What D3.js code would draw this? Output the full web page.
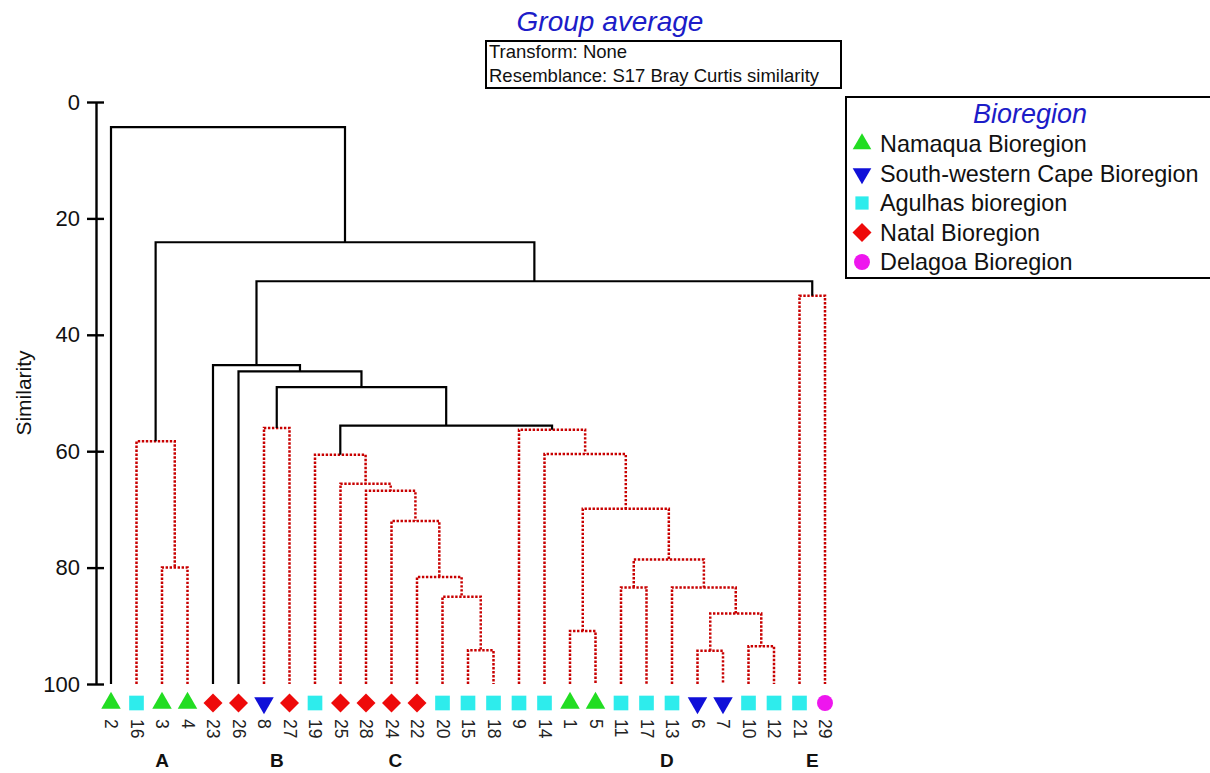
<!DOCTYPE html>
<html>
<head>
<meta charset="utf-8">
<script src="https://cdn.jsdelivr.net/npm/d3@7"></script>
<style>
  html, body { margin: 0; padding: 0; background: #fff; }
  svg { display: block; font-family: "Liberation Sans", Arial, sans-serif; }
</style>
</head>
<body>
<svg id="chart" width="1210" height="773"></svg>
<script>
// ---------------- DATA ----------------
const leafOrder = [2,16,3,4,23,26,8,27,19,25,28,24,22,20,15,18,9,14,1,5,11,17,13,6,7,10,12,21,29];
const leafRegion = [0,2,0,0,3,3,1,3,2,3,3,3,3,2,2,2,2,2,0,0,2,2,2,1,1,2,2,2,4];
const regionNames = ["Namaqua Bioregion","South-western Cape Bioregion","Agulhas bioregion","Natal Bioregion","Delagoa Bioregion"];
// merges: [left, right, similarity, significant]; numbers = sample labels, "m#" = earlier merge
const merges = [
  [3, 4, 80.0, false],          // m0
  [16, "m0", 58.3, false],      // m1
  [8, 27, 56.0, false],         // m2
  [15, 18, 94.2, false],        // m3
  [20, "m3", 85.0, false],      // m4
  [22, "m4", 81.6, false],      // m5
  [24, "m5", 72.0, false],      // m6
  [28, "m6", 66.8, false],      // m7
  [25, "m7", 65.6, false],      // m8
  [19, "m8", 60.6, false],      // m9
  [1, 5, 90.9, false],          // m10
  [11, 17, 83.4, false],        // m11
  [6, 7, 94.3, false],          // m12
  [10, 12, 93.5, false],        // m13
  ["m12", "m13", 87.9, false],  // m14
  [13, "m14", 83.4, false],     // m15
  ["m11", "m15", 78.6, false],  // m16
  ["m10", "m16", 69.9, false],  // m17
  [14, "m17", 60.5, false],     // m18
  [9, "m18", 56.3, false],      // m19
  ["m9", "m19", 55.6, true],    // m20
  ["m2", "m20", 49.0, true],    // m21
  [26, "m21", 46.3, true],      // m22
  [23, "m22", 45.2, true],      // m23
  [21, 29, 33.3, false],        // m24
  ["m23", "m24", 30.8, true],   // m25
  ["m1", "m25", 24.1, true],    // m26
  [2, "m26", 4.3, true]         // m27
];
const yTicks = [0, 20, 40, 60, 80, 100];
const groupLabels = ["A", "B", "C", "D", "E"];
const groupLeafPos = [2, 6.5, 11.15, 21.8, 27.5]; // position in leaf units
const titleText = "Group average";
const infoLines = ["Transform: None", "Resemblance: S17 Bray Curtis similarity"];
const legendTitle = "Bioregion";
const yLabel = "Similarity";

// ---------------- STYLE ----------------
const regionColor = ["#22dd22", "#1010d8", "#2eecec", "#ee0a0a", "#ee16ee"];
const regionShape = ["up", "down", "square", "diamond", "circle"];
const blue = "#1c1cc8";
const red = "#c80000";

const svg = d3.select("#chart");

// scales
const x = d3.scalePoint().domain(leafOrder).range([111, 825]);
const y = d3.scaleLinear().domain([0, 100]).range([102, 684]);
const xIdx = d3.scaleLinear().domain([0, leafOrder.length - 1]).range([111, 825]);

// build node positions
const nodes = {};
leafOrder.forEach(id => { nodes[id] = { x: x(id), sim: 100 }; });
merges.forEach((m, i) => {
  const a = nodes[m[0]], b = nodes[m[1]];
  nodes["m" + i] = { x: (a.x + b.x) / 2, sim: m[2], sig: m[3], a, b };
});

// draw dendrogram lines
const gRed = svg.append("g");
const gBlack = svg.append("g");
merges.forEach((m, i) => {
  const n = nodes["m" + i];
  const g = n.sig ? gBlack : gRed;
  const style = sel => {
    if (n.sig) sel.attr("stroke", "#000").attr("stroke-width", 2.2);
    else sel.attr("stroke", red).attr("stroke-width", 2.5).attr("stroke-dasharray", "2.4,1.6");
    sel.attr("fill", "none");
  };
  const path = d3.path();
  path.moveTo(n.a.x, y(n.a.sim));
  path.lineTo(n.a.x, y(n.sim));
  path.lineTo(n.b.x, y(n.sim));
  path.lineTo(n.b.x, y(n.b.sim));
  g.append("path").attr("d", path.toString()).call(style);
});

// y axis
const axis = d3.axisLeft(y).tickValues(yTicks).tickSize(9).tickSizeOuter(0).tickPadding(7);
const ga = svg.append("g").attr("transform", "translate(96,0)").call(axis);
ga.select(".domain").attr("stroke", "#000").attr("stroke-width", 2.4);
ga.selectAll(".tick line").attr("x1", 8).attr("x2", -9).attr("stroke", "#000").attr("stroke-width", 2.4);
ga.selectAll(".tick text").attr("font-size", 22).attr("fill", "#111")
  .attr("font-family", "'Liberation Sans', Arial, sans-serif");

svg.append("text").attr("transform", "translate(31,393) rotate(-90)")
  .attr("text-anchor", "middle").attr("font-size", 21).attr("fill", "#111").text(yLabel);

// symbols
function symbolPath(shape, big) {
  if (shape === "up" || shape === "down") return d3.symbol(d3.symbolTriangle, big ? 165 : 150)();
  if (shape === "square") return d3.symbol(d3.symbolSquare, big ? 215 : 175)();
  if (shape === "diamond") return d3.symbol(d3.symbolSquare, 180)();
  return d3.symbol(d3.symbolCircle, 200)();
}
function symbolRot(shape) {
  if (shape === "down") return 180;
  if (shape === "diamond") return 45;
  return 0;
}

// leaf markers
svg.append("g").selectAll("path").data(leafOrder).join("path")
  .attr("d", (d, i) => symbolPath(regionShape[leafRegion[i]], true))
  .attr("transform", (d, i) => `translate(${x(d)},${703}) rotate(${symbolRot(regionShape[leafRegion[i]])})`)
  .attr("fill", (d, i) => regionColor[leafRegion[i]]);

// leaf labels
svg.append("g").selectAll("text").data(leafOrder).join("text")
  .attr("transform", d => `translate(${x(d)},719) rotate(90)`)
  .attr("dominant-baseline", "central")
  .attr("font-size", 17.5).attr("fill", "#222")
  .text(d => d);

// group letters
svg.append("g").selectAll("text").data(groupLabels).join("text")
  .attr("x", (d, i) => xIdx(groupLeafPos[i]))
  .attr("y", 767)
  .attr("text-anchor", "middle").attr("font-weight", "bold").attr("font-size", 19).attr("fill", "#111")
  .text(d => d);

// title
svg.append("text").attr("x", 610).attr("y", 31).attr("text-anchor", "middle")
  .attr("font-size", 28).attr("font-style", "italic").attr("fill", blue).text(titleText);

// info box
svg.append("rect").attr("x", 486).attr("y", 41).attr("width", 355).attr("height", 47)
  .attr("fill", "#fff").attr("stroke", "#000").attr("stroke-width", 2);
svg.append("g").selectAll("text").data(infoLines).join("text")
  .attr("x", 489).attr("y", (d, i) => 58 + i * 23.5)
  .attr("font-size", 18.5).attr("fill", "#111").text(d => d);

// legend
svg.append("rect").attr("x", 846).attr("y", 97).attr("width", 420).attr("height", 181)
  .attr("fill", "#fff").attr("stroke", "#000").attr("stroke-width", 2);
svg.append("text").attr("x", 1030).attr("y", 123).attr("text-anchor", "middle")
  .attr("font-size", 27).attr("font-style", "italic").attr("fill", blue).text(legendTitle);
const li = svg.append("g").selectAll("g").data(regionNames).join("g")
  .attr("transform", (d, i) => `translate(0,${152 + i * 29.5})`);
li.append("path")
  .attr("d", (d, i) => symbolPath(regionShape[i], false))
  .attr("transform", (d, i) => `translate(862,-8) rotate(${symbolRot(regionShape[i])})`)
  .attr("fill", (d, i) => regionColor[i]);
li.append("text").attr("x", 880).attr("y", 0).attr("font-size", 23.4).attr("fill", "#111").text(d => d);
</script>
</body>
</html>
